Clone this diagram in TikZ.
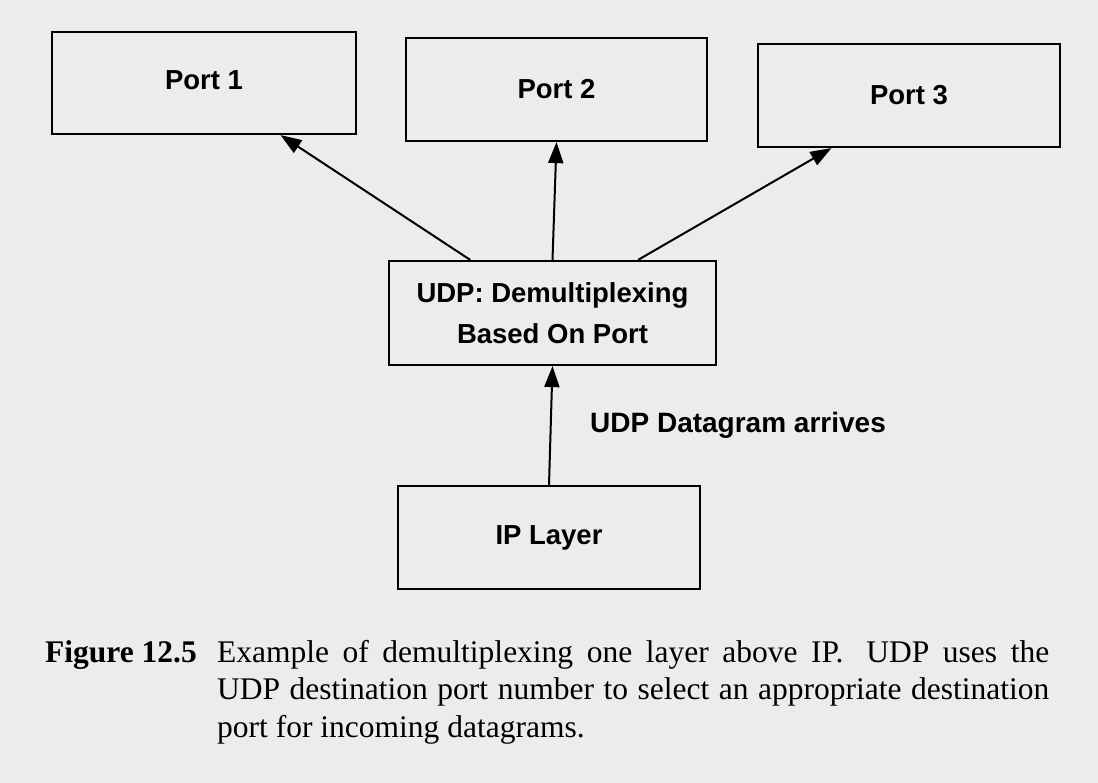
\documentclass[tikz,border=0pt]{standalone}
\usepackage{fontspec}
\setmainfont{Liberation Serif}
\newfontfamily\helv{Liberation Sans}
\usetikzlibrary{arrows.meta,calc}
\definecolor{paper}{RGB}{236,236,236}
\begin{document}
\begin{tikzpicture}[x=1pt,y=-1pt,
  box/.style={draw=black,line width=2.2pt,fill=none,inner sep=0pt,
    font=\helv\bfseries\fontsize{27.5}{41}\selectfont,align=center},
  conn/.style={line width=2pt,-{Triangle[length=21pt,width=15pt]}},
  lbl/.style={font=\helv\bfseries\fontsize{28}{31}\selectfont,inner sep=0pt}]
\fill[paper] (0,0) rectangle (1098,783);
\useasboundingbox (0,0) rectangle (1098,783);
\node[box,minimum width=304pt,minimum height=102pt] (p1) at (204,83) {Port 1\vphantom{p}};
\node[box,minimum width=301pt,minimum height=103pt] (p2) at (556.5,89.5) {Port 2};
\node[box,minimum width=302pt,minimum height=103pt] (p3) at (909,95.5) {Port 3};
\node[box,minimum width=327pt,minimum height=104pt] (udp) at (552.5,313) {UDP: Demultiplexing\\Based On Port};
\node[box,minimum width=302pt,minimum height=103pt] (ip) at (549,537.5) {IP Layer};
\draw[conn] ($(udp.north west)!0.25!(udp.north east)$) -- ($(p1.south west)!0.75!(p1.south east)$);
\draw[conn] (udp.north) -- (p2.south);
\draw[conn] ($(udp.north west)!0.76!(udp.north east)$) -- ($(p3.south west)!0.245!(p3.south east)$);
\draw[conn] (ip.north) -- (udp.south);
\node[lbl,anchor=west] (arr) at (590,425) {UDP Datagram arrives};
\node[anchor=base west,inner sep=0pt,font=\bfseries\fontsize{31.5}{37}\selectfont] (fig) at (45,662) {Figure 12.5};
\node[anchor=base west,inner sep=0pt,text width=832pt,align=justify,
  font=\fontsize{31.5}{37.5}\selectfont] (cap) at (217,662)
  {\hyphenpenalty=10000 Example of demultiplexing one layer above IP.\hskip 0.3em\ UDP uses the\linebreak
   UDP destination port number to select an appropriate destination\linebreak
   port for incoming datagrams.};
\end{tikzpicture}
\end{document}
